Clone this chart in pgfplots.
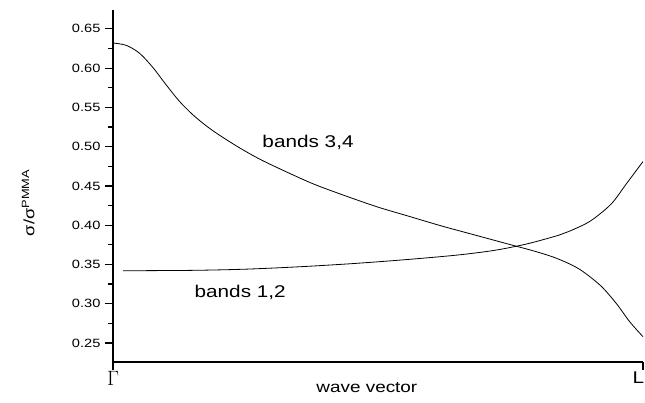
\documentclass[border=0pt]{standalone}
\usepackage{fontspec}
\setmainfont{Liberation Sans}[FakeStretch=1.22]
\usepackage{pgfplots}
\pgfplotsset{compat=1.18}
\begin{document}
\begin{tikzpicture}
\path[use as bounding box] (-113pt,-40pt) rectangle (532pt,362pt);
\begin{axis}[
  at={(0,0)}, anchor=origin,
  scale only axis, width=530pt, height=352pt,
  xmin=0, xmax=1, ymin=0.2258, ymax=0.674,
  axis lines=left, axis line style={-, line width=1.6pt},
  xtick={0,1}, xticklabels={{\fontsize{21}{23}\selectfont$\Gamma$}, {\hspace*{-9pt}L}},
  ytick={0.25,0.30,...,0.651},
  minor y tick num=1,
  tick align=outside,
  major tick length=8pt, minor tick length=5pt,
  every tick/.style={black, line width=1.2pt},
  /pgf/number format/assume math mode=true,
  yticklabel style={/pgf/number format/fixed, /pgf/number format/fixed zerofill, /pgf/number format/precision=2, font=\fontsize{12}{14}\selectfont, xshift=-1pt},
  xticklabel style={font=\fontsize{17}{19}\selectfont, yshift=2pt},
  clip=false,
]
\addplot[black, line width=0.8pt, smooth] coordinates {
(0.000,0.632) (0.025,0.629) (0.050,0.619) (0.075,0.601) (0.100,0.579) (0.125,0.558)
(0.150,0.541) (0.175,0.527) (0.200,0.515) (0.240,0.498) (0.280,0.483) (0.330,0.467)
(0.380,0.452) (0.440,0.437) (0.500,0.423) (0.560,0.411) (0.620,0.399) (0.680,0.388)
(0.740,0.377) (0.800,0.366) (0.840,0.357) (0.880,0.344) (0.920,0.323) (0.950,0.300)
(0.975,0.277) (1.000,0.258)
};
\addplot[black, line width=0.8pt, smooth] coordinates {
(0.019,0.342) (0.150,0.3425) (0.250,0.344) (0.350,0.347) (0.450,0.351) (0.550,0.356)
(0.650,0.362) (0.720,0.368) (0.780,0.376) (0.840,0.387) (0.860,0.392) (0.900,0.405)
(0.940,0.427) (0.970,0.454) (1.000,0.481)
};
\node[font=\fontsize{17}{19}\selectfont] at (axis cs:0.368,0.505) {bands 3,4};
\node[font=\fontsize{17}{19}\selectfont] at (axis cs:0.24,0.314) {bands 1,2};
\node[font=\fontsize{15.5}{18}\selectfont] at (axis description cs:0.479,-0.074) {wave vector};
\node[font=\fontsize{15}{18}\selectfont, rotate=90] at (axis description cs:-0.160,0.452) {σ/σ\textsuperscript{PMMA}};
\end{axis}
\end{tikzpicture}
\end{document}
